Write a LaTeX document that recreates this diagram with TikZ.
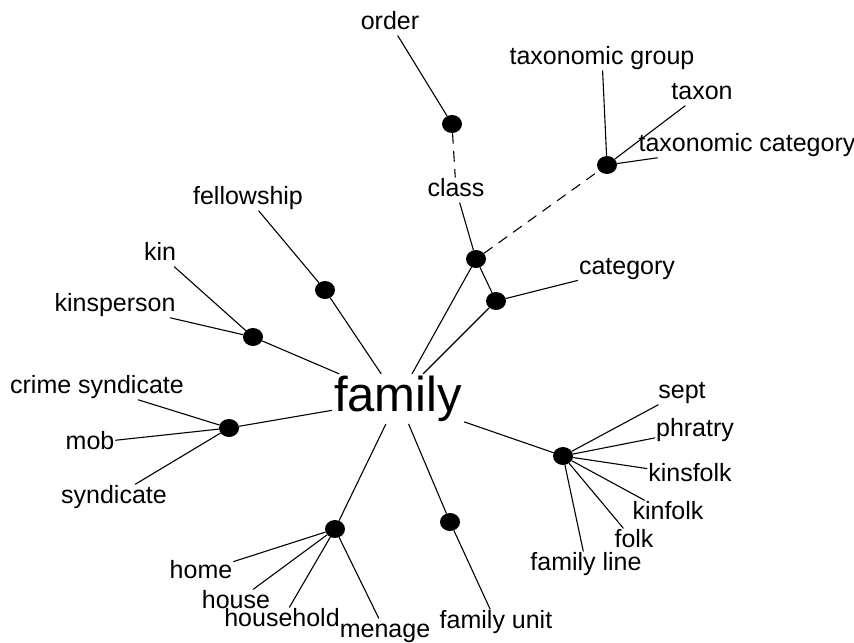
\documentclass[tikz,border=0pt]{standalone}
\usepackage{fontspec}
\setmainfont{Liberation Sans}
\usetikzlibrary{positioning}
\usetikzlibrary{shapes.geometric}

\begin{document}
\begin{tikzpicture}[line cap=round,line join=round,x=0.5pt,y=-0.5pt,
  word/.style={inner sep=0.5pt,text height=9pt,text depth=2.4pt,font=\fontsize{12.5}{14}\selectfont},
  dot/.style={ellipse,fill=black,inner sep=0pt,minimum width=10pt,minimum height=9pt},
  link/.style={line width=0.55pt}]
\useasboundingbox (0,0) rectangle (854,642);
\node[inner sep=1pt,font=\fontsize{24.5}{28}\selectfont] (family) at (398,399) {family};
\node[dot] (ordot) at (452,124) {};
\node[dot] (taxdot) at (607,165) {};
\node[dot] (classdot) at (476,259) {};
\node[dot] (catdot) at (496,301) {};
\node[dot] (fellowdot) at (325,290) {};
\node[dot] (kindot) at (253,337) {};
\node[dot] (mobdot) at (229,428) {};
\node[dot] (homedot) at (335,529) {};
\node[dot] (unitdot) at (450,522) {};
\node[dot] (septdot) at (563,456) {};
\node[word] (order) at (390,23) {order};
\node[word] (taxgroup) at (602,58) {taxonomic group};
\node[word] (taxon) at (702,93) {taxon};
\node[word] (taxcat) at (747,145) {taxonomic category};
\node[word] (class) at (456,190) {class};
\node[word] (category) at (627,268) {category};
\node[word] (fellowship) at (248,198) {fellowship};
\node[word] (kin) at (160,254) {kin};
\node[word] (kinsperson) at (115,305) {kinsperson};
\node[word] (crime) at (97,387) {crime syndicate};
\node[word] (mob) at (90,443) {mob};
\node[word] (syndicate) at (114,497) {syndicate};
\node[word] (home) at (201,572) {home};
\node[word] (house) at (236,602) {house};
\node[word] (household) at (282,620) {household};
\node[word] (menage) at (385,631) {menage};
\node[word] (famunit) at (496,622) {family unit};
\node[word] (famline) at (586,564) {family line};
\node[word] (folk) at (634,541) {folk};
\node[word] (kinfolk) at (668,513) {kinfolk};
\node[word] (kinsfolk) at (690,475) {kinsfolk};
\node[word] (phratry) at (695,430) {phratry};
\node[word] (sept) at (682,392) {sept};
\draw [link] (family) -- (classdot);
\draw [link] (family) -- (catdot);
\draw [link] (classdot) -- (catdot);
\draw [link] (category) -- (catdot);
\draw [link] (class) -- (classdot);
\draw [link,dash pattern=on 5pt off 4pt] (ordot) -- (class);
\draw [link,dash pattern=on 5pt off 4pt] (classdot) -- (taxdot);
\draw [link] (order) -- (ordot);
\draw [link] (taxgroup) -- (taxdot);
\draw [link] (taxon) -- (taxdot);
\draw [link] (taxcat) -- (taxdot);
\draw [link] (fellowship) -- (fellowdot);
\draw [link] (fellowdot) -- (family);
\draw [link] (kin) -- (kindot);
\draw [link] (kinsperson) -- (kindot);
\draw [link] (kindot) -- (family);
\draw [link] (crime) -- (mobdot);
\draw [link] (mob) -- (mobdot);
\draw [link] (syndicate) -- (mobdot);
\draw [link] (mobdot) -- (family);
\draw [link] (homedot) -- (family);
\draw [link] (home) -- (homedot);
\draw [link] (house) -- (homedot);
\draw [link] (household) -- (homedot);
\draw [link] (menage) -- (homedot);
\draw [link] (unitdot) -- (family);
\draw [link] (famunit) -- (unitdot);
\draw [link] (septdot) -- (family);
\draw [link] (sept) -- (septdot);
\draw [link] (phratry) -- (septdot);
\draw [link] (kinsfolk) -- (septdot);
\draw [link] (kinfolk) -- (septdot);
\draw [link] (folk) -- (septdot);
\draw [link] (famline) -- (septdot);
\end{tikzpicture}
\end{document}
